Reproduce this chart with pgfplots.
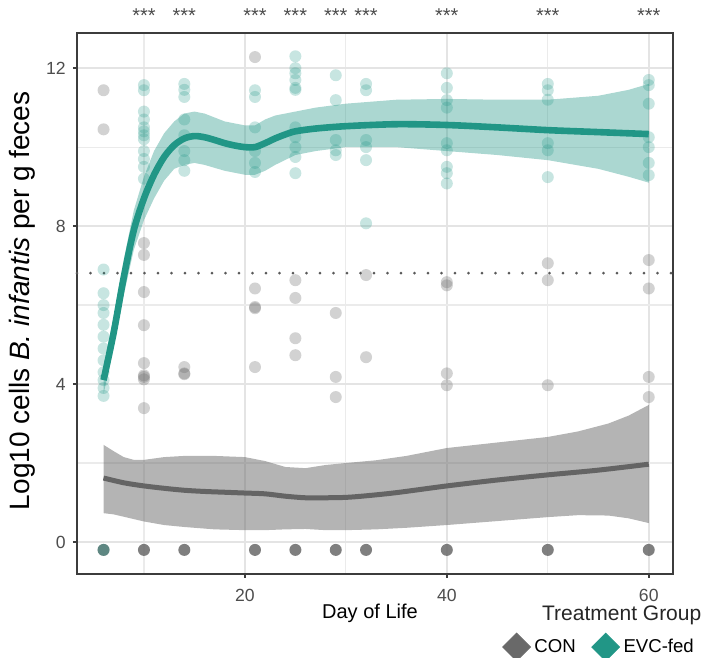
\documentclass[border=0pt]{standalone}
\usepackage{pgfplots}
\pgfplotsset{compat=1.18}
\usepackage{fontspec}
\setmainfont{Liberation Sans}
\definecolor{evc}{RGB}{33,150,134}
\definecolor{con}{RGB}{105,105,105}
\definecolor{gridc}{RGB}{228,228,228}
\definecolor{frame}{RGB}{60,60,60}
\definecolor{ticktext}{RGB}{77,77,77}

\begin{document}
\begin{tikzpicture}
\path[use as bounding box] (-38.5pt,-42pt) rectangle (316pt,287pt);
\begin{axis}[
    scale only axis,
    width=298pt, height=270.5pt,
    xmin=3.37, xmax=62.4,
    ymin=-0.81, ymax=12.89,
    xtick={20,40,60}, ytick={0,4,8,12},
    minor xtick={10,30,50}, minor ytick={2,6,10},
    grid=both,
    major grid style={gridc, line width=0.9pt},
    minor grid style={gridc!75, line width=0.6pt},
    axis line style={frame, line width=0.8pt},
    tick align=outside, tick pos=left,
    major tick length=2pt,
    minor tick length=0pt,
    tick style={frame, line width=0.8pt},
    /pgf/number format/assume math mode=true,
    ticklabel style={font=\fontsize{8.8}{10}\selectfont, text=ticktext},
    xticklabel style={anchor=center, yshift=-8.5pt},
    yticklabel style={anchor=east, inner sep=0pt, xshift=-3.5pt},
    xlabel={Day of Life},
    xlabel style={font=\fontsize{10}{12}\selectfont, at={(axis description cs:0.4916,-0.072)}, anchor=center},
    ylabel={Log10 cells \textit{B. infantis} per g feces},
    ylabel style={font=\fontsize{14}{16}\selectfont, at={(axis description cs:-0.092,0.505)}, anchor=center},
    clip=false,
    legend columns=2,
    legend style={draw=none, fill=none, at={(axis description cs:0.878,-0.135)}, anchor=center,
        font=\fontsize{9.3}{11}\selectfont, /tikz/every even column/.append style={column sep=6pt},
        inner sep=0pt},
]
\addlegendimage{only marks, mark=square*, mark size=4.9pt, color=con, every mark/.append style={rotate=45}}
\addlegendentry{CON}
\addlegendimage{only marks, mark=square*, mark size=4.9pt, color=evc, every mark/.append style={rotate=45}}
\addlegendentry{EVC-fed}

% CON points (non-zero)
\addplot[forget plot, only marks, mark=*, mark size=3pt, color=con, mark options={draw opacity=0, fill opacity=0.3}] coordinates {
(6,11.44) (6,10.45)
(10,7.57) (10,7.27) (10,6.33) (10,5.49) (10,4.53) (10,4.18) (10,4.22) (10,4.12) (10,3.39)
(14,4.43) (14,4.27) (14,4.25)
(21,12.28) (21,6.42) (21,5.92) (21,5.95) (21,4.43)
(25,6.63) (25,6.18) (25,5.16) (25,4.73)
(29,5.8) (29,4.18) (29,3.67)
(32,6.76) (32,4.68)
(40,6.58) (40,6.5) (40,4.27) (40,3.97)
(50,7.06) (50,6.63) (50,3.97)
(60,7.14) (60,6.42) (60,4.18) (60,3.67)
};
% CON points at zero
\addplot[forget plot, only marks, mark=*, mark size=3pt, color=con, mark options={draw opacity=0, fill opacity=0.85}] coordinates {
(6,-0.2) (10,-0.2) (14,-0.2) (21,-0.2) (25,-0.2) (29,-0.2) (32,-0.2) (40,-0.2) (50,-0.2) (60,-0.2)
};
\addplot[forget plot, only marks, mark=*, mark size=3pt, color=evc, mark options={draw opacity=0, fill opacity=0.35}] coordinates {(6,-0.2)};
% EVC-fed points
\addplot[forget plot, only marks, mark=*, mark size=3pt, color=evc, mark options={draw opacity=0, fill opacity=0.25}] coordinates {
(6,6.9) (6,6.3) (6,6.0) (6,5.8) (6,5.5) (6,5.2) (6,4.9) (6,4.6) (6,4.3) (6,4.1) (6,3.9) (6,3.7)
(10,11.57) (10,11.44) (10,10.9) (10,10.7) (10,10.5) (10,10.4) (10,10.3) (10,10.2) (10,9.9) (10,9.7) (10,9.5) (10,9.2)
(14,11.6) (14,11.45) (14,11.27) (14,10.7) (14,10.3) (14,9.9) (14,9.67) (14,9.4)
(21,11.44) (21,11.27) (21,10.5) (21,9.9) (21,9.6) (21,9.37)
(25,12.3) (25,12.0) (25,11.87) (25,11.7) (25,11.5) (25,11.45) (25,10.5) (25,10.25) (25,10.0) (25,9.75) (25,9.34)
(29,11.82) (29,11.19) (29,10.18) (29,9.92) (29,9.8)
(32,11.6) (32,11.44) (32,10.18) (32,10.0) (32,9.67) (32,8.07)
(40,11.87) (40,11.5) (40,11.19) (40,11.0) (40,10.1) (40,9.92) (40,9.5) (40,9.34) (40,9.08)
(50,11.6) (50,11.44) (50,11.2) (50,10.1) (50,9.92) (50,9.24)
(60,11.7) (60,11.57) (60,11.1) (60,10.25) (60,10.0) (60,9.6) (60,9.29)
};

% CON band
\addplot[forget plot, draw=none, fill=con, fill opacity=0.5] coordinates {
(6,2.46) (7,2.3) (8,2.15) (9,2.08) (10,2.08) (12,2.15) (14,2.18) (17,2.18) (20,2.15) (22,2.05) (24,1.9) (26,1.87) (28,1.95) (30,2.0) (33,2.07) (36,2.18) (40,2.38) (45,2.52) (50,2.66) (53,2.8) (56,3.0) (58,3.2) (60,3.47)
(60,0.48) (58,0.6) (56,0.67) (53,0.68) (50,0.63) (45,0.53) (40,0.43) (36,0.36) (33,0.32) (30,0.3) (28,0.3) (26,0.33) (24,0.32) (22,0.3) (20,0.3) (17,0.32) (14,0.38) (12,0.43) (10,0.52) (9,0.58) (8,0.64) (7,0.7) (6,0.73)
} -- cycle;
% EVC band
\addplot[forget plot, draw=none, fill=evc, fill opacity=0.38] coordinates {
(6,4.45) (7,5.7) (8,7.15) (9,8.4) (10,9.25) (11,9.9) (12,10.35) (13,10.65) (14,10.85) (15,10.9) (16,10.85) (18,10.65) (20,10.55) (21,10.55) (22,10.7) (23,10.8) (25,10.9) (27,11.0) (30,11.1) (35,11.2) (40,11.22) (45,11.2) (50,11.2) (55,11.3) (58,11.45) (60,11.6)
(60,9.1) (58,9.25) (55,9.45) (50,9.67) (45,9.8) (40,9.9) (35,10.0) (30,10.0) (27,9.9) (25,9.8) (23,9.55) (22,9.4) (21,9.3) (20,9.3) (18,9.4) (16,9.55) (15,9.6) (14,9.55) (13,9.45) (12,9.15) (11,8.7) (10,8.15) (9,7.4) (8,6.25) (7,4.9) (6,3.75)
} -- cycle;

% smooth lines
\addplot[forget plot, con!95!black, line width=2.5pt, smooth] coordinates {
(6,1.62) (8,1.5) (10,1.42) (12,1.36) (14,1.31) (16,1.28) (18,1.26) (20,1.24) (22,1.22) (24,1.16) (26,1.12) (28,1.12) (30,1.13) (32,1.17) (35,1.25) (40,1.42) (45,1.57) (50,1.7) (55,1.82) (60,1.97)
};
\addplot[forget plot, evc, line width=3.3pt, smooth] coordinates {
(6,4.1) (7,5.3) (8,6.7) (9,7.9) (10,8.7) (11,9.3) (12,9.75) (13,10.05) (14,10.22) (15,10.28) (16,10.25) (17,10.18) (18,10.1) (19,10.04) (20,10.0) (21,10.0) (22,10.1) (23,10.22) (24,10.32) (25,10.4) (27,10.47) (30,10.53) (35,10.58) (40,10.56) (45,10.5) (50,10.43) (55,10.38) (60,10.33)
};

% detection limit
\addplot[forget plot, color=black!65, line width=1.5pt, line cap=round, dash pattern=on 0pt off 6.75pt] coordinates {(3.37,6.81) (62.4,6.81)};

% significance marks
\node[font=\fontsize{10}{11}\selectfont, text=black!70] at (axis cs:10,13.33) {***};
\node[font=\fontsize{10}{11}\selectfont, text=black!70] at (axis cs:14,13.33) {***};
\node[font=\fontsize{10}{11}\selectfont, text=black!70] at (axis cs:21,13.33) {***};
\node[font=\fontsize{10}{11}\selectfont, text=black!70] at (axis cs:25,13.33) {***};
\node[font=\fontsize{10}{11}\selectfont, text=black!70] at (axis cs:29,13.33) {***};
\node[font=\fontsize{10}{11}\selectfont, text=black!70] at (axis cs:32,13.33) {***};
\node[font=\fontsize{10}{11}\selectfont, text=black!70] at (axis cs:40,13.33) {***};
\node[font=\fontsize{10}{11}\selectfont, text=black!70] at (axis cs:50,13.33) {***};
\node[font=\fontsize{10}{11}\selectfont, text=black!70] at (axis cs:60,13.33) {***};
\node[font=\fontsize{10.5}{12}\selectfont, text=black!85] at (axis description cs:0.914,-0.076) {Treatment Group};
\end{axis}
\end{tikzpicture}
\end{document}
